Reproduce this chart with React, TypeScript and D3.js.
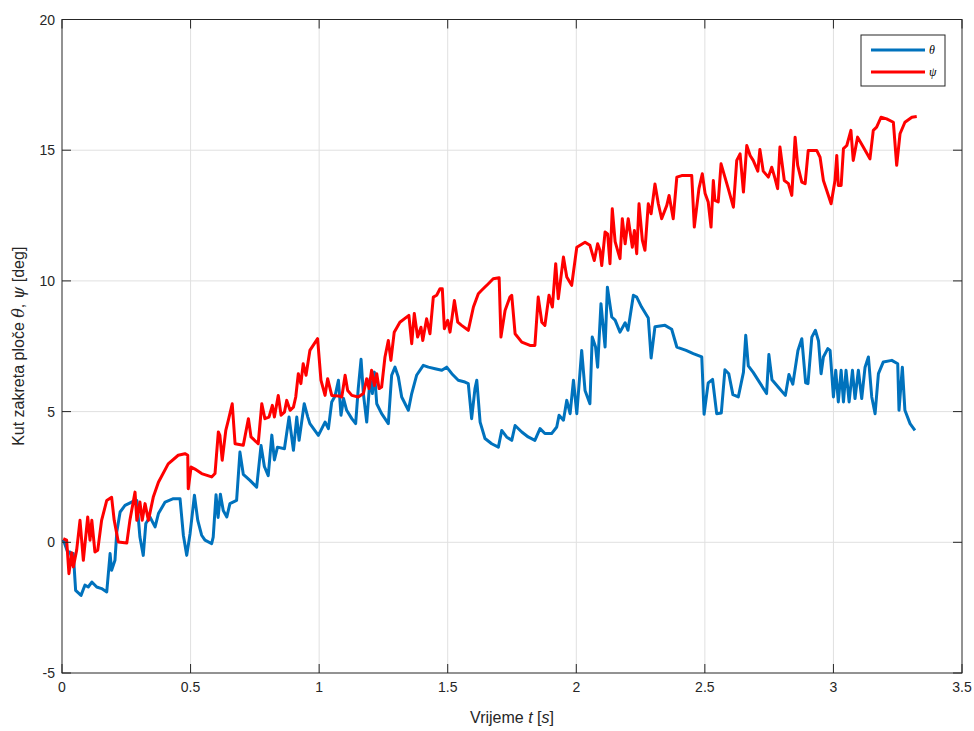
import React from "react";
import * as d3 from "d3";

// ψ (red) series
const psiT = [0.005,0.018,0.027,0.038,0.044,0.057,0.070,0.083,0.100,0.109,0.116,0.128,0.139,0.154,0.174,0.193,0.203,0.219,0.252,0.264,0.284,0.291,0.303,0.312,0.323,0.336,0.355,0.375,0.413,0.452,0.478,0.489,0.491,0.502,0.517,0.543,0.582,0.595,0.608,0.614,0.623,0.637,0.647,0.662,0.673,0.705,0.725,0.735,0.763,0.777,0.789,0.805,0.818,0.826,0.841,0.852,0.865,0.874,0.887,0.900,0.909,0.919,0.929,0.938,0.949,0.964,0.994,1.007,1.023,1.033,1.049,1.075,1.088,1.101,1.111,1.127,1.152,1.172,1.185,1.194,1.204,1.215,1.224,1.233,1.243,1.256,1.269,1.279,1.292,1.314,1.349,1.360,1.370,1.383,1.396,1.403,1.418,1.431,1.444,1.457,1.470,1.479,1.487,1.500,1.509,1.526,1.539,1.554,1.580,1.600,1.619,1.632,1.658,1.677,1.700,1.707,1.723,1.742,1.749,1.762,1.788,1.820,1.839,1.852,1.866,1.878,1.894,1.907,1.920,1.930,1.950,1.963,1.982,2.002,2.034,2.053,2.070,2.083,2.092,2.099,2.112,2.122,2.131,2.140,2.151,2.170,2.179,2.190,2.202,2.218,2.226,2.235,2.244,2.257,2.267,2.280,2.291,2.306,2.319,2.332,2.352,2.361,2.377,2.391,2.410,2.449,2.459,2.477,2.490,2.501,2.513,2.524,2.533,2.539,2.552,2.563,2.578,2.591,2.611,2.624,2.637,2.650,2.663,2.676,2.688,2.706,2.714,2.727,2.747,2.760,2.773,2.783,2.792,2.809,2.825,2.838,2.851,2.861,2.877,2.890,2.902,2.935,2.948,2.961,2.974,2.991,3.006,3.013,3.019,3.030,3.039,3.052,3.068,3.077,3.094,3.116,3.142,3.155,3.168,3.185,3.207,3.233,3.246,3.259,3.278,3.305,3.324];
const psiV = [0.14,0.08,-1.2,-0.4,-0.94,-0.3,0.84,-0.69,0.97,0.08,0.84,-0.37,-0.3,0.84,1.6,1.72,0.84,0.01,-0.03,0.84,1.92,0.84,1.54,0.84,1.48,0.84,1.73,2.3,3.0,3.33,3.39,3.33,2.05,2.88,2.8,2.63,2.5,2.63,4.22,4.09,3.14,4.28,4.67,5.3,3.77,3.71,4.73,4.03,3.77,5.3,4.73,4.79,5.24,4.79,5.62,4.86,4.98,5.43,5.05,5.17,5.56,6.45,6.07,6.83,6.39,7.34,7.79,6.2,5.62,6.26,5.62,5.6,5.56,6.39,5.81,5.62,5.56,5.69,6.26,5.88,6.58,6.0,6.45,5.88,5.94,7.09,7.72,6.96,8.04,8.42,8.68,7.6,8.75,7.85,8.23,7.72,8.55,7.98,9.38,9.45,9.7,9.7,8.17,8.49,8.04,9.25,8.42,8.3,8.11,9.0,9.51,9.64,9.89,10.08,10.12,7.85,8.87,9.38,9.45,7.98,7.66,7.53,7.53,9.38,8.42,8.3,9.45,9.0,10.66,9.32,10.91,10.15,9.83,11.29,11.48,11.36,10.78,11.42,11.17,10.59,11.87,11.8,10.66,12.76,11.5,10.85,12.38,11.42,12.38,11.29,11.93,11.04,12.95,11.55,11.17,12.95,12.57,13.71,12.95,12.38,12.89,13.27,12.38,13.97,14.03,14.03,12.06,13.53,14.1,13.34,13.02,12.06,13.84,13.08,13.02,14.48,13.97,13.53,12.82,14.61,14.86,13.4,15.18,14.8,14.61,14.2,15.03,14.2,13.97,14.35,13.91,13.53,15.12,13.84,13.72,13.27,15.5,14.42,13.78,13.72,14.99,14.99,14.73,13.84,13.46,12.95,13.84,14.8,13.65,13.65,15.06,15.18,15.76,14.61,15.5,15.12,14.67,15.76,15.88,16.26,16.2,16.07,14.42,15.63,16.07,16.26,16.29];

// θ (blue) series
const thetaT = [0.005,0.022,0.031,0.040,0.044,0.053,0.074,0.089,0.102,0.116,0.135,0.154,0.174,0.187,0.193,0.206,0.213,0.226,0.245,0.271,0.291,0.303,0.316,0.326,0.342,0.362,0.375,0.401,0.433,0.459,0.472,0.485,0.498,0.515,0.528,0.543,0.556,0.582,0.588,0.599,0.607,0.616,0.627,0.641,0.653,0.679,0.692,0.705,0.731,0.757,0.774,0.787,0.802,0.816,0.826,0.838,0.865,0.883,0.900,0.913,0.922,0.942,0.956,0.964,0.997,1.023,1.036,1.049,1.062,1.075,1.085,1.095,1.107,1.127,1.142,1.152,1.163,1.172,1.185,1.198,1.207,1.215,1.224,1.243,1.269,1.282,1.295,1.308,1.321,1.347,1.360,1.379,1.405,1.425,1.451,1.477,1.496,1.516,1.541,1.567,1.580,1.593,1.606,1.613,1.626,1.645,1.671,1.697,1.710,1.729,1.749,1.762,1.788,1.813,1.839,1.859,1.878,1.904,1.924,1.933,1.950,1.963,1.976,1.989,2.002,2.021,2.034,2.053,2.062,2.075,2.083,2.096,2.112,2.121,2.138,2.151,2.170,2.190,2.201,2.222,2.235,2.254,2.280,2.291,2.306,2.345,2.371,2.391,2.427,2.455,2.488,2.497,2.513,2.530,2.546,2.564,2.578,2.593,2.609,2.630,2.650,2.659,2.669,2.688,2.714,2.740,2.749,2.761,2.785,2.813,2.827,2.842,2.862,2.877,2.892,2.901,2.916,2.930,2.942,2.952,2.961,2.978,2.987,3.000,3.009,3.019,3.030,3.039,3.049,3.061,3.074,3.084,3.097,3.110,3.123,3.136,3.149,3.162,3.175,3.194,3.227,3.250,3.255,3.268,3.278,3.298,3.317];
const thetaV = [0.1,-0.37,-0.37,-0.69,-0.43,-1.84,-2.03,-1.64,-1.71,-1.52,-1.71,-1.77,-1.9,-0.43,-1.07,-0.69,0.39,1.16,1.41,1.54,1.6,0.2,-0.5,0.72,0.97,0.59,1.1,1.54,1.67,1.67,0.27,-0.5,0.33,1.8,0.84,0.27,0.08,-0.05,0.2,1.82,0.95,1.84,1.22,0.97,1.48,1.6,3.45,2.6,2.37,2.11,3.7,2.9,2.55,4.1,3.15,3.64,3.58,4.79,3.52,4.79,3.9,5.3,4.79,4.54,4.09,4.6,4.35,5.37,5.6,6.2,4.86,5.5,5.05,4.73,4.54,5.88,7.0,5.69,4.6,6.26,5.69,6.51,5.3,4.92,4.54,6.39,6.7,6.32,5.56,5.05,5.69,6.39,6.77,6.7,6.64,6.58,6.7,6.45,6.2,6.13,6.07,4.73,5.88,6.2,4.6,3.97,3.77,3.64,4.28,4.03,3.9,4.47,4.22,4.03,3.9,4.35,4.16,4.16,4.41,4.86,4.67,5.43,4.92,6.2,4.92,7.34,5.81,5.3,7.85,7.47,6.7,9.13,7.47,9.76,8.62,8.5,8.04,8.4,8.11,9.45,9.38,9.0,8.58,7.05,8.25,8.3,8.15,7.47,7.34,7.22,7.09,4.9,6.1,6.23,4.92,4.95,6.6,6.45,5.65,5.56,6.5,7.92,6.75,6.5,6.1,5.69,7.18,6.22,5.94,5.62,6.42,6.05,7.34,7.79,6.1,6.07,7.85,8.11,7.7,6.45,7.09,7.41,7.34,5.56,6.58,5.37,6.58,5.37,6.58,5.37,6.58,5.5,6.58,5.5,6.7,7.09,5.56,4.92,6.45,6.9,6.96,6.83,5.05,6.7,5.05,4.54,4.28];

const xTicks = [0, 0.5, 1, 1.5, 2, 2.5, 3, 3.5];
const yTicks = [-5, 0, 5, 10, 15, 20];

const W = 974, H = 731;
const L = 62, R = 962, T = 19.5, B = 673;
const AX = "#262626";
const FONT = "'Liberation Sans', Arial, Helvetica, sans-serif";

export default function App() {
  const x = d3.scaleLinear().domain([0, 3.5]).range([L, R]);
  const y = d3.scaleLinear().domain([-5, 20]).range([B, T]);
  const line = d3.line<[number, number]>().x(d => x(d[0])).y(d => y(d[1]));
  const psi = line(psiT.map((t, i) => [t, psiV[i]] as [number, number])) || "";
  const theta = line(thetaT.map((t, i) => [t, thetaV[i]] as [number, number])) || "";
  const tk = 9;
  const fmt = (v: number) => String(v);
  const SW = 3;
  return (
    <svg width={W} height={H} style={{ position: "absolute", left: 0, top: 0, background: "#fff" }} fontFamily={FONT}>
      <rect x={0} y={0} width={W} height={H} fill="#fff" />
      {xTicks.slice(1, -1).map(t => (
        <line key={"gx" + t} x1={x(t)} x2={x(t)} y1={T} y2={B} stroke="#e0e0e0" strokeWidth={1} />
      ))}
      {yTicks.slice(1, -1).map(t => (
        <line key={"gy" + t} x1={L} x2={R} y1={y(t)} y2={y(t)} stroke="#e0e0e0" strokeWidth={1} />
      ))}
      <path d={theta} fill="none" stroke="#0072BD" strokeWidth={SW} strokeLinejoin="round" />
      <path d={psi} fill="none" stroke="#FF0000" strokeWidth={SW} strokeLinejoin="round" />
      {xTicks.map(t => (
        <g key={"tx" + t}>
          <line x1={x(t)} x2={x(t)} y1={B} y2={B - tk} stroke={AX} />
          <line x1={x(t)} x2={x(t)} y1={T} y2={T + tk} stroke={AX} />
          <text x={x(t)} y={B + 19} textAnchor="middle" fontSize={14} fill={AX}>{fmt(t)}</text>
        </g>
      ))}
      {yTicks.map(t => (
        <g key={"ty" + t}>
          <line x1={L} x2={L + tk} y1={y(t)} y2={y(t)} stroke={AX} />
          <line x1={R} x2={R - tk} y1={y(t)} y2={y(t)} stroke={AX} />
          <text x={L - 7} y={y(t) + 5} textAnchor="end" fontSize={14} fill={AX}>{fmt(t)}</text>
        </g>
      ))}
      <rect x={L} y={T} width={R - L} height={B - T} fill="none" stroke={AX} strokeWidth={1} />
      <text x={(L + R) / 2} y={723} textAnchor="middle" fontSize={16} fill={AX}>
        Vrijeme <tspan fontStyle="italic">t</tspan> [<tspan fontStyle="italic">s</tspan>]
      </text>
      <text transform={`translate(24, ${(T + B) / 2}) rotate(-90)`} textAnchor="middle" fontSize={16} fill={AX}>
        Kut zakreta ploče <tspan fontFamily="'DejaVu Serif', 'Liberation Serif', serif" fontStyle="italic">θ</tspan>, <tspan fontFamily="'DejaVu Serif', 'Liberation Serif', serif" fontStyle="italic">ψ</tspan> [deg]
      </text>
      <rect x={861} y={35} width={84} height={51} fill="#fff" stroke={AX} strokeWidth={1} />
      <line x1={871} x2={925} y1={50} y2={50} stroke="#0072BD" strokeWidth={SW} />
      <line x1={871} x2={925} y1={72} y2={72} stroke="#FF0000" strokeWidth={SW} />
      <text x={929} y={54} fontSize={12} fontStyle="italic" fontFamily="'Liberation Serif', 'DejaVu Serif', serif" fill="#000">θ</text>
      <text x={929} y={76} fontSize={12} fontStyle="italic" fontFamily="'Liberation Serif', 'DejaVu Serif', serif" fill="#000">ψ</text>
    </svg>
  );
}
